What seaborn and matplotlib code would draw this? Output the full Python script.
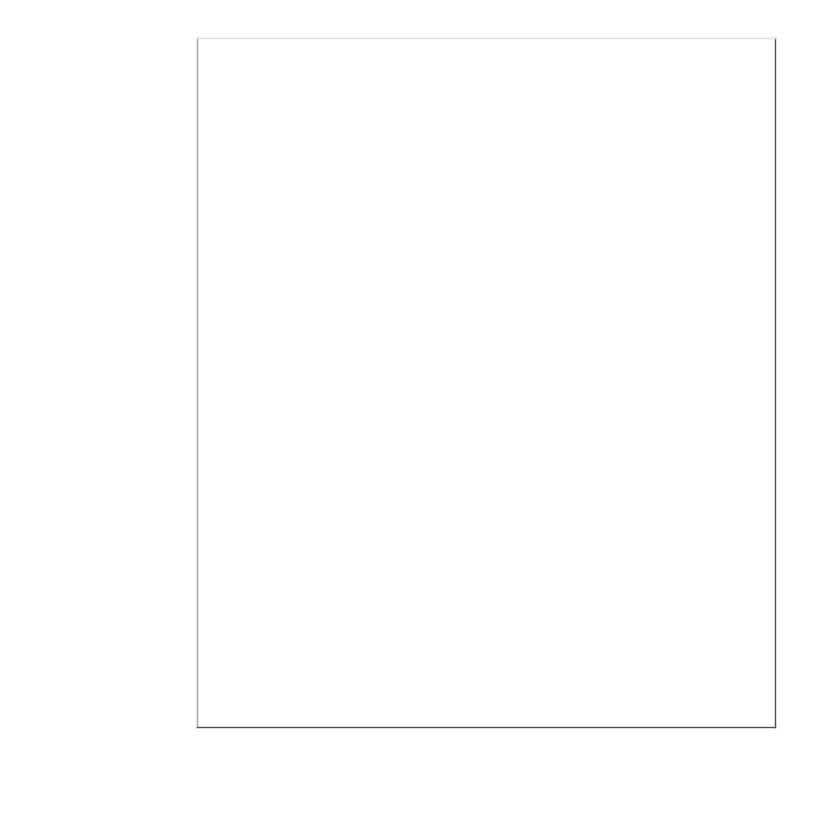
import seaborn as sns
import matplotlib
matplotlib.use("Agg")
import matplotlib.pyplot as plt

# the reference shows an empty plot area, no marks
x_values = []
y_values = []

sns.set_style("white")

fig = plt.figure(figsize=(8.27, 8.27), dpi=100)
ax = fig.add_axes([197 / 827, 1 - 727 / 827, (775 - 197) / 827, (727 - 37.5) / 827])

sns.scatterplot(x=x_values, y=y_values, ax=ax)

ax.set_xticks([])
ax.set_yticks([])
ax.set_xlabel("")
ax.set_ylabel("")

ax.spines["top"].set_color("#dcdcdc")
ax.spines["left"].set_color("#a0a0a0")
ax.spines["right"].set_color("#4d4d4d")
ax.spines["bottom"].set_color("#4d4d4d")
for s in ax.spines.values():
    s.set_linewidth(1.0)

fig.savefig("out.png", dpi=100, facecolor="white")
